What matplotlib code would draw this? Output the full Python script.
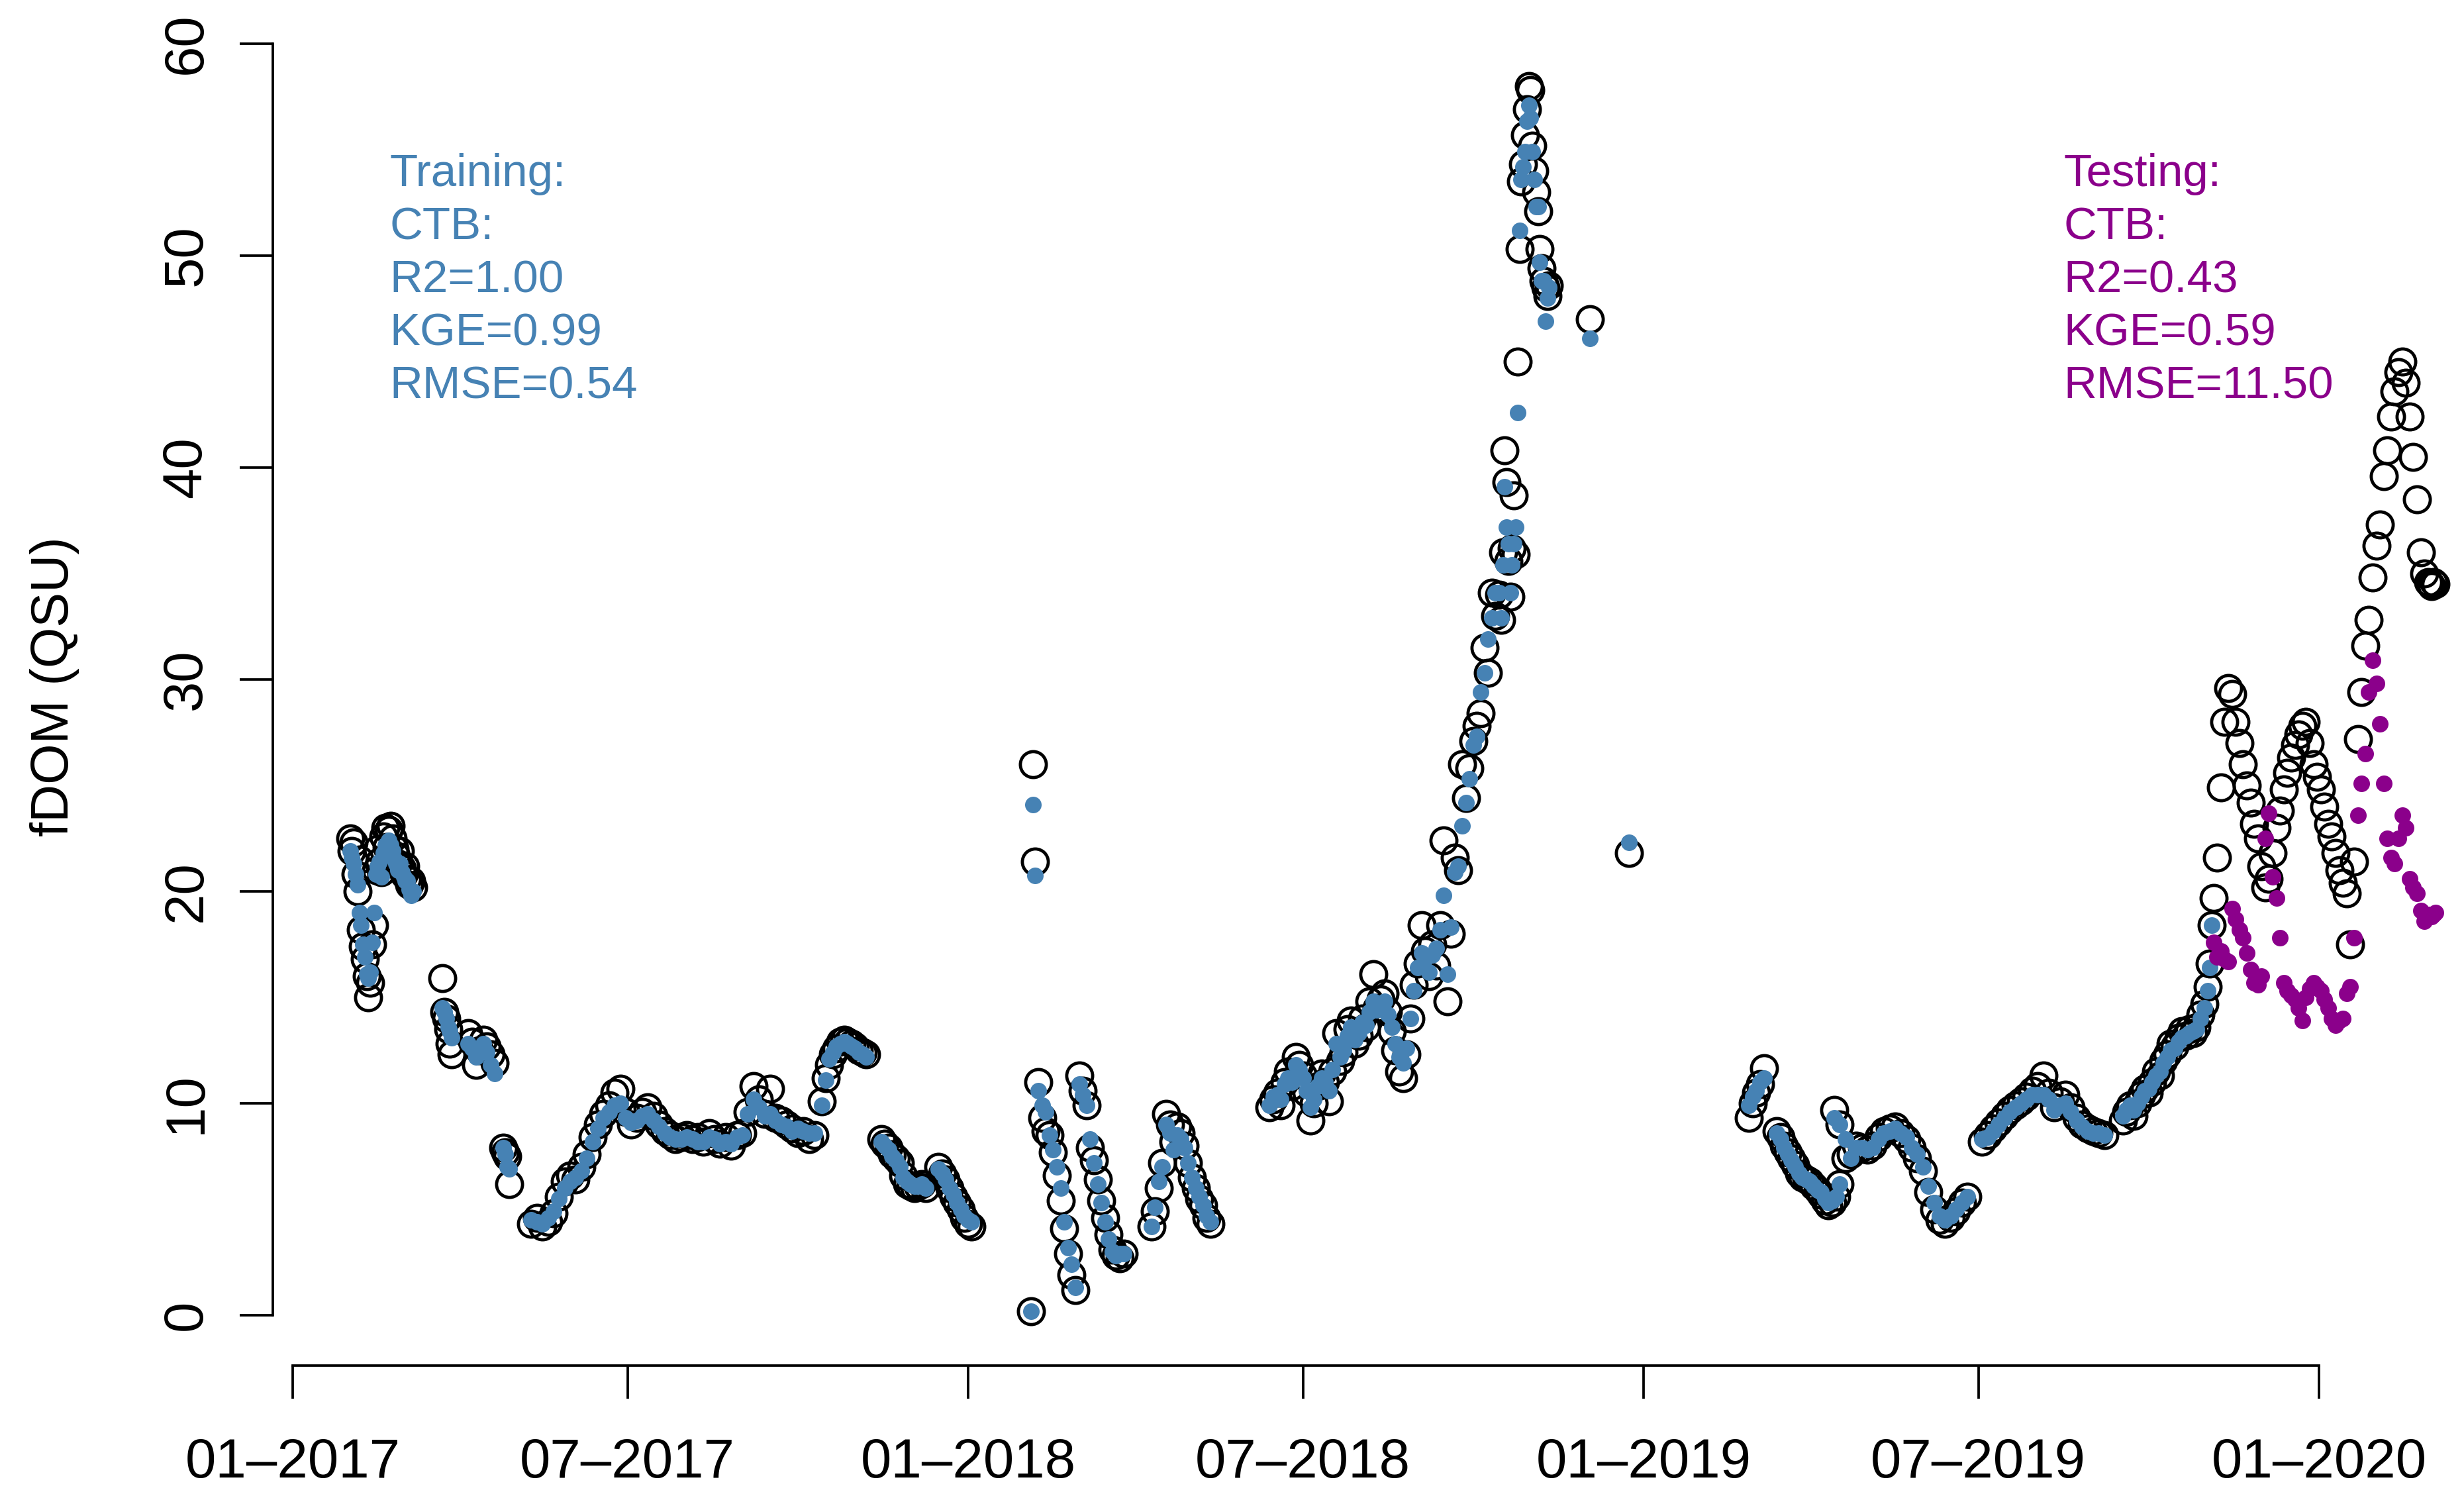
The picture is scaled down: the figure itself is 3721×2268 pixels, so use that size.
import numpy as np
import pandas as pd
import matplotlib
matplotlib.use("Agg")
import matplotlib.pyplot as plt
import matplotlib.dates as mdates

plt.rcParams['font.family'] = ['Liberation Sans', 'DejaVu Sans']

# ---- observed (obs) and CatBoost predicted (pred) fDOM, read off the figure ----
# each block: first date, spacing in days, observed values, predicted values

# training period
start_feb17, step_feb17 = "2017-02-01", 1
obs_feb17 = [22.5, 21.9, 22.3, 20.8, 20.0, 21.5, 18.2, 17.4, 16.8, 16.0, 15.0, 15.7, 17.5, 18.4,
             21.0, 22.0, 21.4, 20.9, 22.6, 23.0, 22.1, 22.9, 23.1, 22.5, 22.0, 21.7, 21.3, 21.9,
             21.1, 20.8, 21.2, 20.6, 20.3, 20.5, 20.2]
pred_feb17 = [21.9, 21.6, 21.3, 20.8, 20.3, 19.0, 18.4, 17.5, 16.9, 16.1, 15.9, 16.2, 17.6, 19.0,
              20.8, 21.2, 21.4, 20.7, 21.8, 22.2, 22.0, 22.4, 22.2, 21.9, 21.5, 21.3, 21.0, 21.3,
              20.9, 20.7, 20.5, 20.5, 20.1, 19.8, 20.0]

start_mar17, step_mar17 = "2017-03-23", 1
obs_mar17 = [15.9, 14.3, 14.0, 13.5, 12.8, 12.3]
pred_mar17 = [14.5, 14.3, 14.0, 13.6, 13.4, 13.1]

start_apr17, step_apr17 = "2017-04-06", 2
obs_apr17 = [13.3, 12.9, 11.8, 12.5, 13.0, 12.7, 12.3, 11.9]
pred_apr17 = [12.8, 12.6, 12.2, 12.6, 12.8, 12.4, 11.8, 11.4]

start_apr17b, step_apr17b = "2017-04-25", 1
obs_apr17b = [7.9, 7.7, 7.5, 6.2]
pred_apr17b = [7.9, 7.6, 7.0, 6.9]

start_sum17, step_sum17 = "2017-05-10", 3
obs_sum17 = [4.3, 4.6, 4.2, 4.4, 4.8, 5.6, 6.3, 6.6, 6.4, 7.0, 7.6, 8.4, 9.0, 9.5, 9.9, 10.5, 10.7,
             9.6, 9.0, 9.3, 9.6, 9.8, 9.4, 9.0, 8.7, 8.5, 8.3, 8.4, 8.5, 8.3, 8.4, 8.2, 8.6, 8.3,
             8.1, 8.4, 8.0, 8.5, 8.6, 9.6, 10.8, 10.2, 9.5, 10.7, 9.3, 9.2, 9.0, 8.8, 8.6, 8.7,
             8.3, 8.5]
pred_sum17 = [4.5, 4.4, 4.3, 4.6, 4.9, 5.5, 6.0, 6.3, 6.5, 6.8, 7.4, 8.2, 8.8, 9.3, 9.6, 9.9, 10.0,
              9.3, 9.1, 9.2, 9.4, 9.5, 9.2, 8.9, 8.6, 8.4, 8.3, 8.3, 8.4, 8.3, 8.2, 8.2, 8.4, 8.3,
              8.1, 8.2, 8.1, 8.4, 8.5, 9.5, 10.2, 9.8, 9.4, 9.5, 9.2, 9.0, 8.9, 8.7, 8.8, 8.7,
              8.6, 8.6]

start_oct17, step_oct17 = "2017-10-14", 2
obs_oct17 = [10.1, 11.2, 11.8, 12.3, 12.6, 12.9, 13.0, 12.9, 12.8, 12.7, 12.5, 12.4, 12.3]
pred_oct17 = [9.9, 11.1, 12.1, 12.4, 12.7, 12.8, 12.9, 12.8, 12.7, 12.6, 12.4, 12.3, 12.2]

start_nov17, step_nov17 = "2017-11-15", 2
obs_nov17 = [8.3, 8.1, 7.9, 7.6, 7.4, 7.2, 6.6, 6.2, 6.1, 6.0, 6.1, 6.2, 6.0]
pred_nov17 = [8.2, 8.0, 7.8, 7.5, 7.3, 7.0, 6.5, 6.3, 6.2, 6.1, 6.1, 6.2, 6.0]

start_dec17, step_dec17 = "2017-12-16", 2
obs_dec17 = [7.0, 6.7, 6.4, 6.0, 5.6, 5.3, 5.0, 4.6, 4.3, 4.2]
pred_dec17 = [6.9, 6.7, 6.4, 6.0, 5.7, 5.3, 5.0, 4.7, 4.5, 4.4]

start_feb18, step_feb18 = "2018-02-04", 1
obs_feb18 = [0.2, 26.0, 21.4]
pred_feb18 = [0.2, 24.1, 20.75]

start_feb18b, step_feb18b = "2018-02-08", 2
obs_feb18b = [11.0, 9.3, 8.7, 8.5, 7.7, 6.6, 5.4, 4.1, 2.9, 1.9, 1.2]
pred_feb18b = [10.6, 9.9, 9.6, 8.5, 7.8, 7.0, 6.0, 4.4, 3.2, 2.4, 1.3]

start_mar18, step_mar18 = "2018-03-02", 2
obs_mar18 = [11.3, 10.6, 9.9, 7.9, 7.3, 6.4, 5.4, 4.6, 3.8, 3.1, 2.8, 2.7, 2.9]
pred_mar18 = [10.9, 10.4, 9.9, 8.3, 7.2, 6.2, 5.3, 4.4, 3.6, 3.0, 2.8, 2.9, 2.9]

start_apr18, step_apr18 = "2018-04-10", 2
obs_apr18 = [4.2, 4.9, 6.0, 7.2, 9.5, 9.0, 8.2, 8.9, 8.6, 8.0, 7.2, 6.5, 6.0, 5.5, 5.2, 4.6, 4.3]
pred_apr18 = [4.2, 5.1, 6.3, 7.0, 9.0, 8.6, 7.8, 8.5, 8.3, 7.9, 7.2, 6.5, 6.0, 5.6, 5.2, 4.7, 4.4]

start_sum18, step_sum18 = "2018-06-13", 2
obs_sum18 = [9.8, 10.2, 10.5, 9.9, 11.0, 11.5, 10.8, 12.2, 11.8, 11.3,
             10.5, 9.2, 10.0, 10.8, 11.4, 11.0, 10.1, 11.5, 13.3, 12.0,
             12.4, 13.5, 13.9, 12.8, 13.2, 14.0, 13.6, 14.8, 16.1, 14.5,
             14.9, 15.2, 14.3, 13.4, 12.5, 11.5, 11.2, 12.3, 14.0, 15.6,
             16.6, 18.4, 17.2, 16.0, 17.5, 16.5, 18.4, 22.4, 14.8, 18.0,
             21.6, 21.0, 26.0, 24.4, 25.8, 27.1, 27.8, 28.4, 31.5, 30.3,
             34.1, 33.0]
pred_sum18 = [9.9, 10.3, 10.4, 10.2, 10.9, 11.2, 11.0, 11.8, 11.6, 11.2,
              10.6, 9.8, 10.2, 10.8, 11.2, 11.0, 10.6, 11.6, 12.8, 12.2,
              12.5, 13.2, 13.6, 13.0, 13.3, 13.8, 13.7, 14.3, 14.8, 14.4,
              14.6, 14.8, 14.2, 13.6, 12.8, 12.2, 11.9, 12.6, 14.0, 15.3,
              16.4, 17.1, 16.8, 16.2, 17.0, 17.3, 18.2, 19.8, 16.1, 18.3,
              20.9, 21.2, 23.1, 24.2, 25.3, 26.9, 27.3, 29.4, 30.3, 31.9,
              32.9, 34.1]

start_oct18, step_oct18 = "2018-10-15", 1
obs_oct18 = [34.0, 32.8, 36.0, 40.8, 39.3, 35.6, 33.9, 36.2, 38.7, 35.9,
             45.0, 50.3, 53.5, 54.3, 55.7, 56.9, 58.0, 57.8, 55.2, 54.0,
             53.0, 52.1, 50.3, 49.4, 48.8, 48.5, 48.1, 48.6]
pred_oct18 = [34.1, 32.9, 35.4, 39.1, 37.2, 36.4, 34.1, 35.4, 36.4, 37.2,
              42.6, 51.2, 53.6, 54.2, 54.9, 56.35, 57.1, 56.5, 54.9, 53.6,
              52.3, 52.3, 49.7, 48.8, 48.8, 46.9, 48.0, 48.5]

start_dec18, step_dec18 = "2018-12-03", 21
obs_dec18 = [47.0, 21.8]
pred_dec18 = [46.1, 22.3]

start_feb19, step_feb19 = "2019-02-27", 2
obs_feb19 = [9.3, 10.0, 10.5, 10.9, 11.65]
pred_feb19 = [9.9, 10.3, 10.6, 11.0, 11.2]

start_mar19, step_mar19 = "2019-03-14", 2
obs_mar19 = [8.7, 8.4, 8.0, 7.7, 7.4, 7.1, 6.7, 6.5, 6.4, 6.3, 6.1, 5.9, 5.7, 5.4, 5.2, 5.3, 5.6, 6.2]
pred_mar19 = [8.6, 8.3, 7.9, 7.6, 7.3, 7.0, 6.7, 6.5, 6.4, 6.3, 6.1, 5.9, 5.8, 5.5, 5.3, 5.4, 5.6, 6.2]

start_apr19, step_apr19 = "2019-04-14", 3
obs_apr19 = [9.7, 9.0, 7.4, 7.6, 8.0, 7.9, 7.8, 8.0, 8.4, 8.7, 8.8, 8.9, 8.6, 8.3, 7.9, 7.4,
             6.8, 5.8, 5.0, 4.5, 4.3, 4.6, 4.9, 5.3, 5.6]
pred_apr19 = [9.3, 9.0, 8.3, 7.4, 7.9, 7.9, 7.8, 7.9, 8.3, 8.6, 8.7, 8.8, 8.6, 8.4, 7.9, 7.6,
              7.0, 6.1, 5.3, 4.7, 4.5, 4.7, 5.0, 5.3, 5.6]

start_jul19, step_jul19 = "2019-07-03", 3
obs_jul19 = [8.2, 8.5, 8.8, 9.1, 9.4, 9.7, 9.9, 10.1, 10.3, 10.6, 10.8, 11.3, 10.5, 9.8, 10.1,
             10.4, 9.8, 9.3, 9.0, 8.8, 8.7, 8.6, 8.5]
pred_jul19 = [8.3, 8.4, 8.7, 9.0, 9.3, 9.6, 9.8, 10.0, 10.2, 10.4, 10.4, 10.4, 10.2, 9.7, 9.9,
              10.0, 9.6, 9.2, 8.9, 8.7, 8.6, 8.6, 8.5]

start_sep19, step_sep19 = "2019-09-17", 2
obs_sep19 = [9.2, 9.6, 9.9, 9.4, 10.0, 10.4, 10.7, 10.5, 11.0, 11.5, 11.3, 12.0, 12.3, 12.8,
             12.7, 13.1, 13.4, 13.2, 13.5, 13.3, 13.6, 14.2, 14.7, 15.5]
pred_sep19 = [9.4, 9.7, 9.9, 9.7, 10.0, 10.3, 10.6, 10.7, 11.0, 11.3, 11.5, 11.9, 12.2, 12.5,
              12.6, 12.9, 13.1, 13.2, 13.3, 13.4, 13.5, 14.0, 14.5, 15.3]

start_nov19, step_nov19 = "2019-11-03", 1
obs_nov19 = [16.6, 18.4]
pred_nov19 = [16.4, 18.4]

# testing period
start_test, step_test = "2019-11-05", 2
obs_test = [19.7, 21.6, 24.9, 28.0, 29.6, 29.3, 28.0, 27.0, 26.0, 25.0, 24.2, 23.2, 22.5, 21.2,
            20.2, 20.6, 21.8, 23.0, 23.8, 24.8, 25.6, 26.3, 26.9, 27.4, 27.8, 28.0, 27.0, 26.0,
            25.4, 24.8, 24.0, 23.2, 22.6, 21.8, 21.0, 20.4, 19.9, 17.5, 21.4, 27.2, 29.4, 31.6,
            32.8, 34.8, 36.3, 37.3, 39.6, 40.8, 42.4, 43.6, 44.5, 45.0, 44.0, 42.4, 40.5, 38.5,
            36.0, 35.0, 34.6]
pred_test = [17.6, 16.9, 17.2, 16.8, 16.7, 19.2, 18.7, 18.2, 17.8, 17.1, 16.3, 15.7, 15.6, 16.0,
             22.5, 23.7, 20.7, 19.7, 17.8, 15.7, 15.3, 15.1, 14.9, 14.5, 13.9, 15.0, 15.4, 15.7,
             15.5, 15.3, 14.9, 14.5, 14.0, 13.7, 13.9, 14.0, 15.2, 15.5, 17.8, 23.6, 25.1, 26.5,
             29.4, 30.9, 29.8, 27.9, 25.1, 22.5, 21.6, 21.3, 22.5, 23.6, 23.0, 20.6, 20.2, 19.9,
             19.1, 18.6, 18.9]

start_test_end, step_test_end = "2020-03-01", 1
obs_test_end = [34.5, 34.4, 34.6, 34.5]
pred_test_end = [18.9, 18.8, 18.9, 19.0]

train_text = ["Training:", "CTB:", "R2=1.00", "KGE=0.99", "RMSE=0.54"]
test_text = ["Testing:", "CTB:", "R2=0.43", "KGE=0.59", "RMSE=11.50"]
tick_dates = ["2017-01-01", "2017-07-01", "2018-01-01", "2018-07-01",
              "2019-01-01", "2019-07-01", "2020-01-01"]
y_ticks = [0, 10, 20, 30, 40, 50, 60]

train_blocks = [
    (start_feb17, step_feb17, obs_feb17, pred_feb17),
    (start_mar17, step_mar17, obs_mar17, pred_mar17),
    (start_apr17, step_apr17, obs_apr17, pred_apr17),
    (start_apr17b, step_apr17b, obs_apr17b, pred_apr17b),
    (start_sum17, step_sum17, obs_sum17, pred_sum17),
    (start_oct17, step_oct17, obs_oct17, pred_oct17),
    (start_nov17, step_nov17, obs_nov17, pred_nov17),
    (start_dec17, step_dec17, obs_dec17, pred_dec17),
    (start_feb18, step_feb18, obs_feb18, pred_feb18),
    (start_feb18b, step_feb18b, obs_feb18b, pred_feb18b),
    (start_mar18, step_mar18, obs_mar18, pred_mar18),
    (start_apr18, step_apr18, obs_apr18, pred_apr18),
    (start_sum18, step_sum18, obs_sum18, pred_sum18),
    (start_oct18, step_oct18, obs_oct18, pred_oct18),
    (start_dec18, step_dec18, obs_dec18, pred_dec18),
    (start_feb19, step_feb19, obs_feb19, pred_feb19),
    (start_mar19, step_mar19, obs_mar19, pred_mar19),
    (start_apr19, step_apr19, obs_apr19, pred_apr19),
    (start_jul19, step_jul19, obs_jul19, pred_jul19),
    (start_sep19, step_sep19, obs_sep19, pred_sep19),
    (start_nov19, step_nov19, obs_nov19, pred_nov19),
]
test_blocks = [
    (start_test, step_test, obs_test, pred_test),
    (start_test_end, step_test_end, obs_test_end, pred_test_end),
]


def block_frame(start, step, obs, pred):
    assert len(obs) == len(pred), start
    dates = pd.Timestamp(start) + pd.to_timedelta(np.arange(len(obs)) * step, unit="D")
    return pd.DataFrame({"date": dates, "obs": obs, "pred": pred})


train = pd.concat([block_frame(*b) for b in train_blocks], ignore_index=True)
test = pd.concat([block_frame(*b) for b in test_blocks], ignore_index=True)
allobs = pd.concat([train, test], ignore_index=True)

W, H, DPI = 3721, 2268, 300
fig = plt.figure(figsize=(W / DPI, H / DPI), dpi=DPI)
# plot region placed like the R device
ax = fig.add_axes([412 / W, 206 / H, 1 - 412 / W, 1 - 206 / H])
ax.patch.set_alpha(0)

ax.plot(allobs["date"], allobs["obs"], ls="none", marker="o", ms=9.4,
        mfc="none", mec="black", mew=1.15)
ax.plot(train["date"], train["pred"], ls="none", marker="o", ms=6.0,
        mfc="#4682B4", mec="none")
ax.plot(test["date"], test["pred"], ls="none", marker="o", ms=6.0,
        mfc="#8B008B", mec="none")

t0 = pd.Timestamp("2017-01-01")
ax.set_xlim(t0 - pd.Timedelta(days=10.7), t0 + pd.Timedelta(days=1173.4))
ax.set_ylim(-2.375, 62.06)

ticks = pd.to_datetime(tick_dates)
ax.set_xticks(ticks)
ax.set_xticklabels([d.strftime("%m\u2013%Y") for d in ticks])
ax.set_yticks(y_ticks)
ax.set_yticklabels([str(v) for v in y_ticks], rotation=90, va="center")

for s in ["top", "right"]:
    ax.spines[s].set_visible(False)
ax.spines["left"].set_bounds(0, 60)
ax.spines["bottom"].set_bounds(mdates.date2num(ticks[0]), mdates.date2num(ticks[-1]))
for s in ["left", "bottom"]:
    ax.spines[s].set_linewidth(0.9)

ax.tick_params(axis="x", length=12, width=0.9, pad=14, labelsize=20)
ax.tick_params(axis="y", length=12, width=0.9, pad=10, labelsize=20)
ax.set_ylabel("fDOM (QSU)", fontsize=19, va="center")
ax.yaxis.set_label_coords((83 - 412) / (W - 412), 0.497)

# metric annotations, one line at a time
for i, line in enumerate(train_text):
    fig.text(588 / W, 1 - (263 + 80 * i) / H, line, color="#4682B4",
             fontsize=16.6, ha="left", va="center")
for i, line in enumerate(test_text):
    fig.text(3116 / W, 1 - (263 + 80 * i) / H, line, color="#8B008B",
             fontsize=16.6, ha="left", va="center")

fig.savefig("out.png", dpi=DPI)
